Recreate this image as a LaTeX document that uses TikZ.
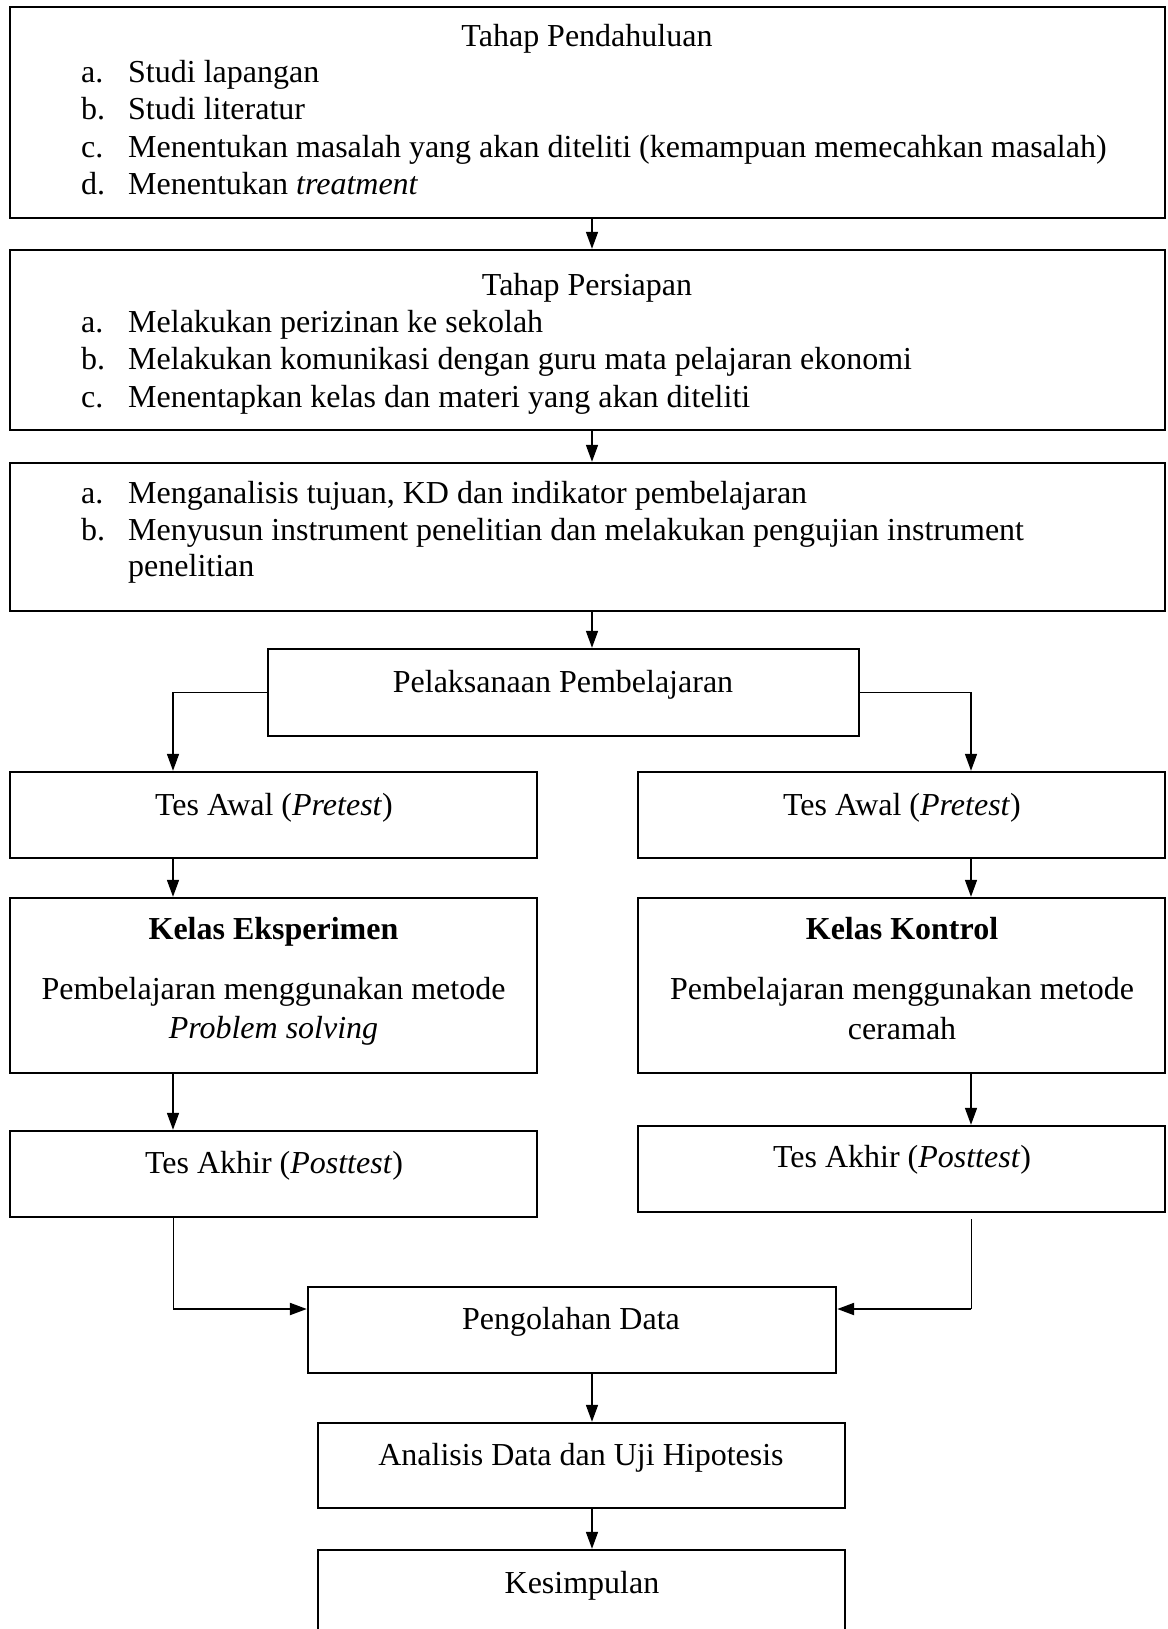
\documentclass[tikz,border=0pt]{standalone}
\usepackage{fontspec}
\setmainfont{Liberation Serif}
\usetikzlibrary{arrows.meta}
\begin{document}
\begin{tikzpicture}[x=1pt,y=-1pt,
  box/.style={draw, line width=2.4pt, inner sep=0pt, rectangle},
  txt/.style={inner sep=0pt, anchor=base, font=\fontsize{32}{37}\selectfont},
  ltxt/.style={txt, anchor=base west},
  arr/.style={line width=1.6pt, -{Triangle[length=17pt,width=12pt]}},
  thinline/.style={line width=1pt}]
\clip (0,0) rectangle (1167,1629);
\fill[white] (0,0) rectangle (1167,1629);
% boxes
\node[box, minimum width=1155pt, minimum height=211pt] (b1) at (587.5,112.5) {};
\node[box, minimum width=1155pt, minimum height=180pt] (b2) at (587.5,340) {};
\node[box, minimum width=1155pt, minimum height=148pt] (b3) at (587.5,537) {};
\node[box, minimum width=591pt, minimum height=87pt] (b4) at (563.5,692.5) {};
\node[box, minimum width=527pt, minimum height=86pt] (ta1) at (273.5,815) {};
\node[box, minimum width=527pt, minimum height=86pt] (ta2) at (901.5,815) {};
\node[box, minimum width=527pt, minimum height=175pt] (ke) at (273.5,985.5) {};
\node[box, minimum width=527pt, minimum height=175pt] (kk) at (901.5,985.5) {};
\node[box, minimum width=527pt, minimum height=86pt] (tak1) at (273.5,1174) {};
\node[box, minimum width=527pt, minimum height=86pt] (tak2) at (901.5,1169) {};
\node[box, minimum width=528pt, minimum height=86pt] (pd) at (572,1330) {};
\node[box, minimum width=527pt, minimum height=85pt] (ad) at (581.5,1465.5) {};
\node[box, minimum width=527pt, minimum height=100pt] (ks) at (581.5,1600) {};
% box 1 text
\node[txt] (t1) at (587,47) {Tahap Pendahuluan};
\node[ltxt] (l1a) at (81,83) {a.};
\node[ltxt] (l1at) at (128,83) {Studi lapangan};
\node[ltxt] (l1b) at (81,120) {b.};
\node[ltxt] (l1bt) at (128,120) {Studi literatur};
\node[ltxt] (l1c) at (81,158) {c.};
\node[ltxt] (l1ct) at (128,158) {Menentukan masalah yang akan diteliti (kemampuan memecahkan masalah)};
\node[ltxt] (l1d) at (81,195) {d.};
\node[ltxt] (l1dt) at (128,195) {Menentukan \textit{treatment}};
% box 2 text
\node[txt] (t2) at (587,295) {Tahap Persiapan};
\node[ltxt] (l2a) at (81,332) {a.};
\node[ltxt] (l2at) at (128,332) {Melakukan perizinan ke sekolah};
\node[ltxt] (l2b) at (81,369) {b.};
\node[ltxt] (l2bt) at (128,369) {Melakukan komunikasi dengan guru mata pelajaran ekonomi};
\node[ltxt] (l2c) at (81,407) {c.};
\node[ltxt] (l2ct) at (128,407) {Menentapkan kelas dan materi yang akan diteliti};
% box 3 text
\node[ltxt] (l3a) at (81,503) {a.};
\node[ltxt] (l3at) at (128,503) {Menganalisis tujuan, KD dan indikator pembelajaran};
\node[ltxt] (l3b) at (81,540) {b.};
\node[ltxt] (l3bt) at (128,540) {Menyusun instrument penelitian dan melakukan pengujian instrument};
\node[ltxt] (l3bt2) at (128,576) {penelitian};
% other texts
\node[txt] (t4) at (563,692) {Pelaksanaan Pembelajaran};
\node[txt] (tta1) at (274,815) {Tes Awal (\textit{Pretest})};
\node[txt] (tta2) at (902,815) {Tes Awal (\textit{Pretest})};
\node[txt] (tke1) at (273.5,939) {\textbf{Kelas Eksperimen}};
\node[txt] (tke2) at (273.5,999) {Pembelajaran menggunakan metode};
\node[txt] (tke3) at (273.5,1038) {\textit{Problem solving}};
\node[txt] (tkk1) at (902,939) {\textbf{Kelas Kontrol}};
\node[txt] (tkk2) at (902,999) {Pembelajaran menggunakan metode};
\node[txt] (tkk3) at (902,1039) {ceramah};
\node[txt] (ttak1) at (274,1173) {Tes Akhir (\textit{Posttest})};
\node[txt] (ttak2) at (902,1167) {Tes Akhir (\textit{Posttest})};
\node[txt] (tpd) at (571,1329) {Pengolahan Data};
\node[txt] (tad) at (581,1465) {Analisis Data dan Uji Hipotesis};
\node[txt] (tks) at (582,1593) {Kesimpulan};
% connectors
\coordinate (cx) at (592,0);
\coordinate (lx) at (173,0);
\coordinate (rx) at (971,0);
\draw[arr] (b1.south -| cx) -- (b2.north -| cx);
\draw[arr] (b2.south -| cx) -- (b3.north -| cx);
\draw[arr] (b3.south -| cx) -- (b4.north -| cx);
\draw[arr] (b4.west) -| (lx |- ta1.north);
\draw[arr] (b4.east) -| (rx |- ta2.north);
\draw[arr] (ta1.south -| lx) -- (ke.north -| lx);
\draw[arr] (ta2.south -| rx) -- (kk.north -| rx);
\draw[arr] (ke.south -| lx) -- (tak1.north -| lx);
\draw[arr] (kk.south -| rx) -- (tak2.north -| rx);
\coordinate (jl) at (173,1309);
\coordinate (jr) at (971,1309);
\draw[thinline] (tak1.south -| lx) -- (jl);
\draw[arr, line width=2.2pt] (jl) -- (jl -| pd.west);
\draw[thinline] ([yshift=-6pt]tak2.south -| rx) -- (jr);
\draw[arr, line width=2.2pt] (jr) -- (jr -| pd.east);
\draw[arr] (pd.south -| cx) -- (ad.north -| cx);
\draw[arr] (ad.south -| cx) -- (ks.north -| cx);
\end{tikzpicture}
\end{document}
